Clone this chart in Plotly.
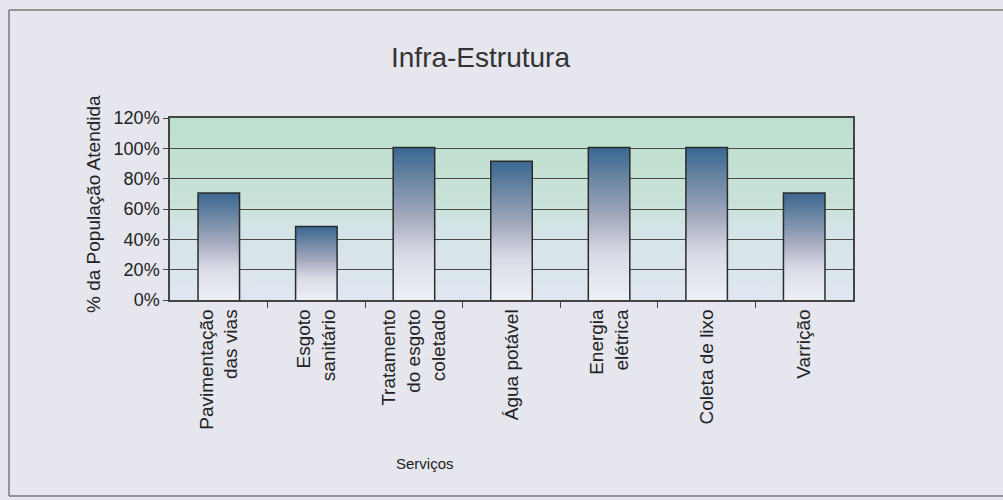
import base64
import plotly.graph_objects as go

# ---- data ----
categories = ["Pavimentação<br>das vias", "Esgoto<br>sanitário", "Tratamento<br>do esgoto<br>coletado",
              "Água potável", "Energia<br>elétrica", "Coleta de lixo", "Varrição"]
values = [70, 48, 100, 91, 100, 100, 70]
y_ticks = [0, 20, 40, 60, 80, 100, 120]
y_ticklabels = ["0%", "20%", "40%", "60%", "80%", "100%", "120%"]
title_text = "Infra-Estrutura"
x_title = "Serviços"
y_title = "% da População Atendida"

W, H = 1003, 500
L, R, T, B = 170, 853, 118, 300
FONT = "Liberation Sans, Arial, sans-serif"
bar_w = 0.41

def px(p):
    return (p - L) / (R - L)

def py(p):
    return (B - p) / (B - T)

fig = go.Figure()

# gradient-filled bars (one trace per bar so gradient spans each bar)
for i, v in enumerate(values):
    x0, x1 = i - bar_w / 2, i + bar_w / 2
    fig.add_trace(go.Scatter(
        x=[x0, x1, x1, x0, x0], y=[0, 0, v, v, 0],
        mode="lines", line=dict(width=0), fill="toself",
        fillgradient=dict(type="vertical",
                          colorscale=[[0, "#eef0f7"], [0.3, "#d9dbe6"], [0.55, "#a3a9bd"],
                                      [0.8, "#6a85a3"], [1, "#3b6891"]]),
        hoverinfo="skip", showlegend=False))

# bar outlines
fig.add_trace(go.Bar(
    x=list(range(len(values))), y=values, width=bar_w,
    marker=dict(color="rgba(0,0,0,0)", line=dict(color="#2b2b2b", width=3)),
    showlegend=False))

# plot-area gradient background (SVG)
svg = ('<svg xmlns="http://www.w3.org/2000/svg" width="100" height="100" preserveAspectRatio="none">'
       '<defs><linearGradient id="g" x1="0" y1="0" x2="0" y2="1">'
       '<stop offset="0" stop-color="#bde0ce"/><stop offset="0.45" stop-color="#c8e2d7"/>'
       '<stop offset="0.6" stop-color="#d3e4e6"/><stop offset="1" stop-color="#e0e6f0"/>'
       '</linearGradient></defs><rect width="100" height="100" fill="url(#g)"/></svg>')
uri = "data:image/svg+xml;base64," + base64.b64encode(svg.encode()).decode()

fig.update_layout(
    width=W, height=H,
    margin=dict(l=L, r=W - R, t=T, b=H - B),
    paper_bgcolor="#e5e6ee", plot_bgcolor="rgba(0,0,0,0)",
    font=dict(family=FONT, color="#222222"),
    images=[dict(source=uri, xref="paper", yref="paper", x=0, y=1, sizex=1, sizey=1,
                 sizing="stretch", layer="below", xanchor="left", yanchor="top")],
    xaxis=dict(range=[-0.5, len(values) - 0.5], tickvals=list(range(len(values))),
               ticktext=categories, tickangle=-90, ticks="", ticklen=6,
               tickfont=dict(size=19, family=FONT, color="#222"),
               showgrid=False, zeroline=False, showline=True, linecolor="#444", linewidth=1.5,
               mirror=True,
               minor=dict(tickvals=[i + 0.5 for i in range(len(values) - 1)], ticks="outside",
                          ticklen=6, tickcolor="#444", tickwidth=1.2)),
    yaxis=dict(range=[0, 120], tickvals=y_ticks, ticktext=y_ticklabels,
               tickfont=dict(size=18, family=FONT, color="#222"),
               ticks="outside", ticklen=5, tickcolor="#444",
               showgrid=True, gridcolor="#4a4a4a", gridwidth=1.4,
               zeroline=False, showline=True, linecolor="#444", linewidth=1.5, mirror=True),
    annotations=[
        dict(text=title_text, x=px(480), y=py(57), xref="paper", yref="paper",
             xanchor="center", yanchor="middle",
             showarrow=False, font=dict(size=28, family=FONT, color="#333")),
        dict(text=y_title, x=px(93), y=py(204), xref="paper", yref="paper", textangle=-90,
             xanchor="center", yanchor="middle",
             showarrow=False, font=dict(size=19, family=FONT, color="#222")),
        dict(text=x_title, x=px(425), y=py(463), xref="paper", yref="paper",
             xanchor="center", yanchor="middle",
             showarrow=False, font=dict(size=15, family=FONT, color="#222")),
    ],
    shapes=[
        dict(type="line", xref="paper", yref="paper", x0=px(9), x1=px(1003), y0=py(10), y1=py(10),
             line=dict(color="#777", width=1.5)),
        dict(type="line", xref="paper", yref="paper", x0=px(9), x1=px(1003), y0=py(496), y1=py(496),
             line=dict(color="#777", width=1.5)),
        dict(type="line", xref="paper", yref="paper", x0=px(9), x1=px(9), y0=py(10), y1=py(496),
             line=dict(color="#777", width=1.5)),
    ],
)

fig.write_html("out.html", config={"displayModeBar": False},
               post_script="document.body.style.margin='0';document.body.style.background='#e5e6ee';")
